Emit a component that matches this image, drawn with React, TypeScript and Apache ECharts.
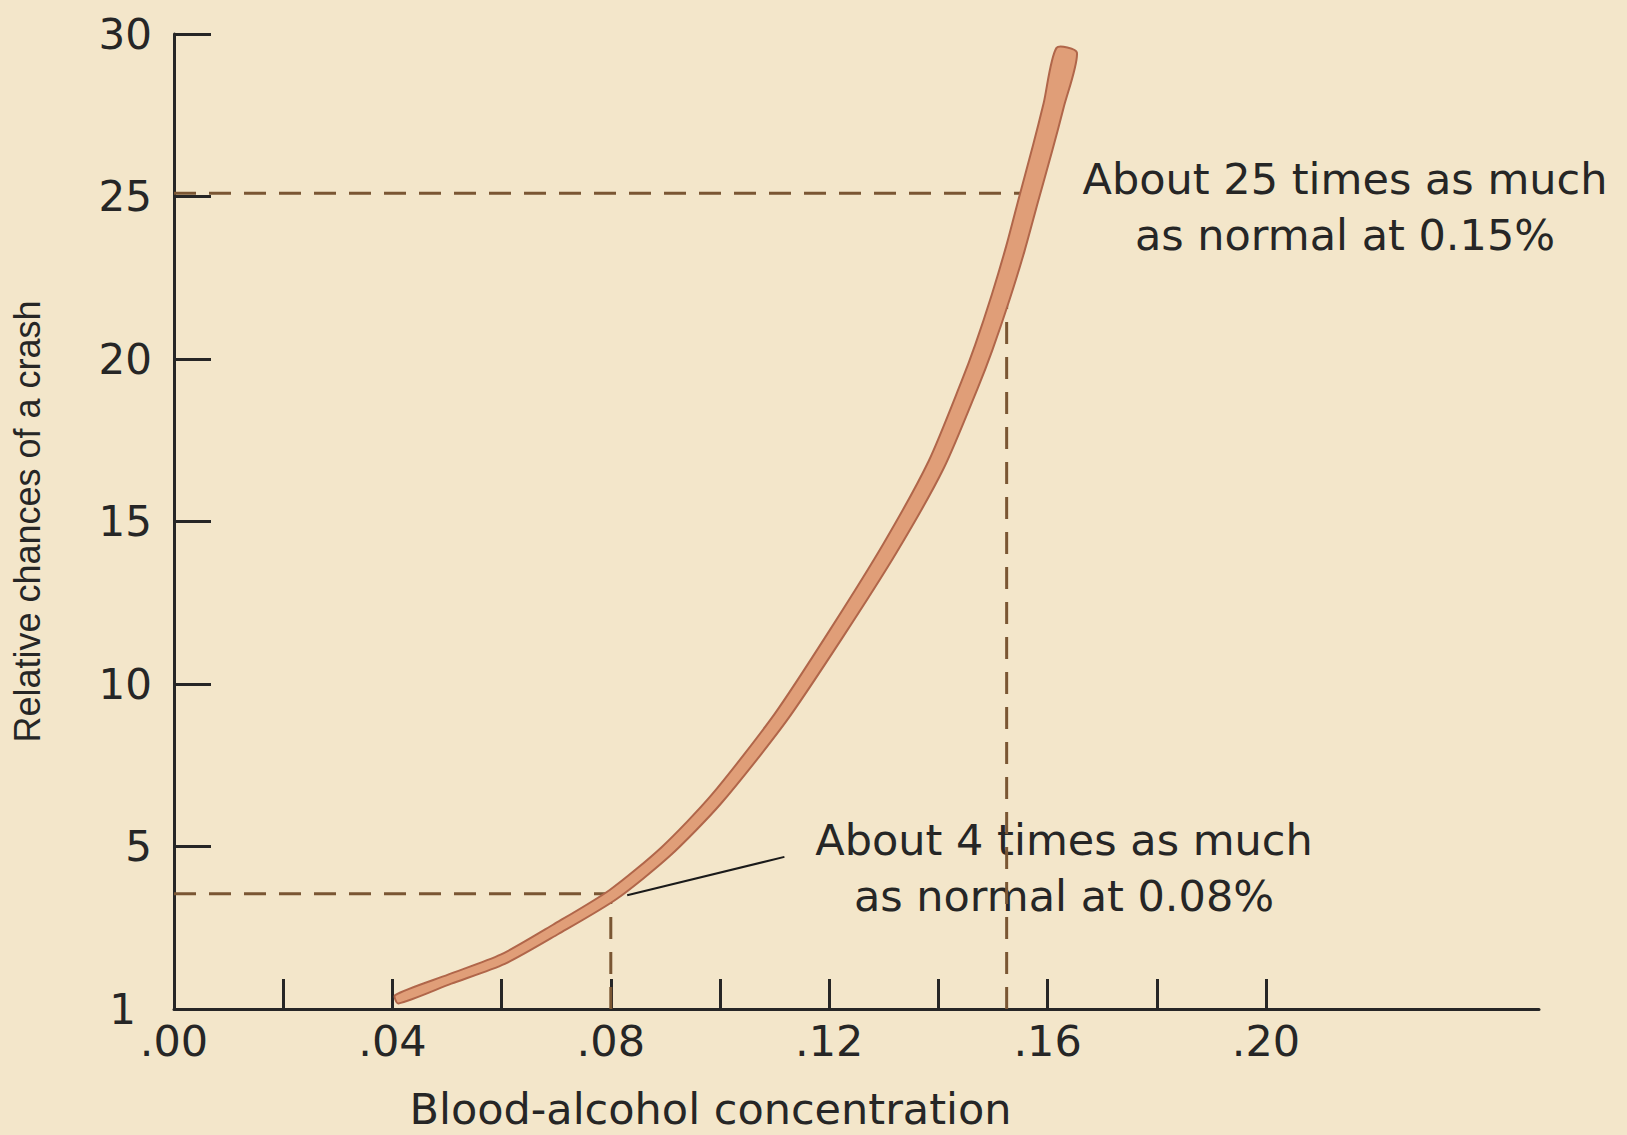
import React, { useEffect, useRef } from "react";
import * as echarts from "echarts";

// Curve: blood-alcohol concentration vs relative chance of a crash
const bac = [0.0408, 0.0505, 0.0602, 0.0699, 0.0804, 0.0901, 0.0993, 0.111, 0.1213, 0.1312, 0.1396, 0.1457, 0.1483, 0.1514, 0.1541, 0.1565, 0.1591, 0.1611, 0.1635];
const crash = [0.3, 0.92, 1.53, 2.45, 3.52, 4.85, 6.45, 8.95, 11.55, 14.2, 16.75, 19.2, 20.35, 21.9, 23.4, 24.9, 26.5, 27.8, 29.5];

// Axis ticks / labels
const xTickValues = [0.02, 0.04, 0.06, 0.08, 0.1, 0.12, 0.14, 0.16, 0.18, 0.2];
const xLabelValues = [0, 0.04, 0.08, 0.12, 0.16, 0.2];
const yTickValues = [5, 10, 15, 20, 25, 30];

// Guide lines
const highGuideBac = [0, 0.156];
const highGuideCrash = [25.1, 25.1];
const highDropBac = [0.1525, 0.1525];
const highDropCrash = [0, 23];
const lowGuideBac = [0, 0.08];
const lowGuideCrash = [3.55, 3.55];
const lowDropBac = [0.08, 0.08];
const lowDropCrash = [0, 3.55];
const leaderBac = [0.083, 0.1118];
const leaderCrash = [3.5, 4.68];

const annotationHigh = "About 25 times as much\nas normal at 0.15%";
const annotationLow = "About 4 times as much\nas normal at 0.08%";

const pair = (xs: number[], ys: number[]) => xs.map((x, i) => [x, ys[i]]);

const INK = "#262626";
const DASH = "#7a5633";
const FONT = '"DejaVu Sans", "Liberation Sans", sans-serif';

export default function App() {
  const ref = useRef<HTMLDivElement>(null);
  useEffect(() => {
    if (!ref.current) return;
    const chart = echarts.init(ref.current, null, { renderer: "svg" });

    const dashed = (name: string, xs: number[], ys: number[]) => ({
      type: "line",
      name,
      data: pair(xs, ys),
      symbol: "none",
      silent: true,
      z: 2,
      lineStyle: { color: DASH, width: 3, type: [22, 13] },
    });

    chart.setOption({
      animation: false,
      backgroundColor: "#F3E6CA",
      grid: { left: 174, right: 88, top: 34, bottom: 122, containLabel: false },
      xAxis: {
        type: "value",
        min: 0,
        max: 0.25,
        splitLine: { show: false },
        axisLine: { show: true, lineStyle: { color: INK, width: 3 } },
        axisTick: { show: true, inside: true, length: 30, customValues: xTickValues, lineStyle: { color: INK, width: 3 } },
        axisLabel: {
          customValues: xLabelValues,
          formatter: (v: number) => "." + String(Math.round(v * 100)).padStart(2, "0"),
          fontSize: 43,
          lineHeight: 32,
          fontFamily: FONT,
          color: INK,
          margin: 16,
        },
        name: "Blood-alcohol concentration",
        nameLocation: "middle",
        nameGap: 78,
        nameTextStyle: { fontSize: 43, fontFamily: FONT, color: INK, padding: [0, 292, 0, 0] },
      },
      yAxis: {
        type: "value",
        min: 0,
        max: 30,
        interval: 5,
        splitLine: { show: false },
        axisLine: { show: true, lineStyle: { color: INK, width: 3 } },
        axisTick: { show: true, inside: true, length: 37, customValues: yTickValues, lineStyle: { color: INK, width: 3 } },
        axisLabel: {
          formatter: (v: number) => (v === 0 ? "{one|1}" : String(v)),
          fontSize: 42,
          lineHeight: 30,
          fontFamily: FONT,
          color: INK,
          margin: 22,
          rich: {
            one: { fontSize: 42, lineHeight: 30, fontFamily: FONT, color: INK, padding: [0, 16, 0, 0] },
          },
        },
        name: "Relative chances of a crash",
        nameLocation: "middle",
        nameRotate: 90,
        nameGap: 129,
        nameTextStyle: { fontSize: 36, fontFamily: '"Liberation Sans", Arial, sans-serif', color: INK },
      },
      series: [
        dashed("high-guide", highGuideBac, highGuideCrash),
        dashed("high-drop", highDropBac, highDropCrash),
        dashed("low-guide", lowGuideBac, lowGuideCrash),
        dashed("low-drop", lowDropBac, lowDropCrash),
        {
          type: "line",
          name: "leader",
          data: pair(leaderBac, leaderCrash),
          symbol: "none",
          silent: true,
          z: 3,
          lineStyle: { color: "#1a1a1a", width: 2 },
        },
        {
          type: "custom",
          name: "Relative chances of a crash",
          data: [[bac[0], crash[0]]],
          z: 5,
          renderItem: (_params: any, api: any) => {
            const pts = bac.map((x, i) => api.coord([x, crash[i]]));
            const n = pts.length;
            const cum = [0];
            for (let i = 1; i < n; i++) {
              cum.push(cum[i - 1] + Math.hypot(pts[i][0] - pts[i - 1][0], pts[i][1] - pts[i - 1][1]));
            }
            const total = cum[n - 1];
            const left: number[][] = [];
            const right: number[][] = [];
            for (let i = 0; i < n; i++) {
              const a = pts[Math.max(0, i - 1)];
              const b = pts[Math.min(n - 1, i + 1)];
              const tx = b[0] - a[0];
              const ty = b[1] - a[1];
              const len = Math.hypot(tx, ty) || 1;
              const nx = -ty / len;
              const ny = tx / len;
              const w = 4.5 + 6 * (cum[i] / total);
              left.push([pts[i][0] + nx * w, pts[i][1] + ny * w]);
              right.push([pts[i][0] - nx * w, pts[i][1] - ny * w]);
            }
            const poly = left.concat(right.reverse());
            return {
              type: "polygon",
              shape: { points: poly, smooth: 0.25 },
              style: { fill: "#E09E78", stroke: "#B0664A", lineWidth: 2 },
            };
          },
        },
      ],
      graphic: [
        {
          type: "text",
          x: 1345,
          y: 151,
          silent: true,
          style: {
            text: annotationHigh,
            fontSize: 43,
            fontFamily: FONT,
            fill: INK,
            align: "center",
            textAlign: "center",
            verticalAlign: "top",
            textVerticalAlign: "top",
            lineHeight: 56,
          },
        },
        {
          type: "text",
          x: 1064,
          y: 812,
          silent: true,
          style: {
            text: annotationLow,
            fontSize: 43,
            fontFamily: FONT,
            fill: INK,
            align: "center",
            textAlign: "center",
            verticalAlign: "top",
            textVerticalAlign: "top",
            lineHeight: 56,
          },
        },
      ],
    });
    return () => chart.dispose();
  }, []);
  return (
    <div
      ref={ref}
      style={{ position: "absolute", left: 0, top: 0, width: 1627, height: 1135 }}
    />
  );
}
